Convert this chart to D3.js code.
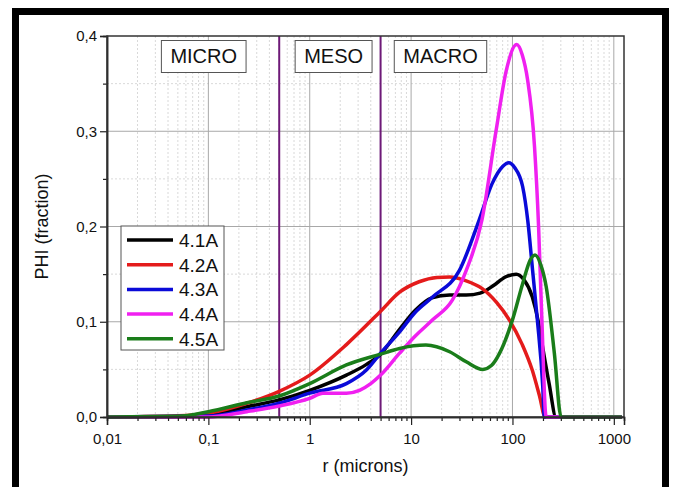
<!DOCTYPE html>
<html>
<head>
<meta charset="utf-8">
<script src="https://cdn.jsdelivr.net/npm/d3@7"></script>
<style>
  body { margin: 0; background: #fff; }
  text { font-family: "Liberation Sans", Arial, sans-serif; fill: #111; }
</style>
</head>
<body>
<div id="chart"></div>
<script>
// DATA: pore radius (microns) and PHI (fraction)
const seriesNames = ["4.1A", "4.2A", "4.3A", "4.4A", "4.5A"];
const seriesColors = ["#000000", "#e41b1b", "#0a0ad8", "#f020f0", "#1a7d1a"];

const r41   = [0.01, 0.05, 0.1, 0.24, 0.5, 1, 2.3, 3.6, 5, 7.7, 11, 16, 24, 35, 48, 65, 85, 109, 130, 157, 180, 198, 230, 269, 1200];
const phi41 = [0, 0.0003, 0.002, 0.0108, 0.018, 0.028, 0.044, 0.055, 0.066, 0.092, 0.112, 0.125, 0.128, 0.128, 0.130, 0.138, 0.147, 0.150, 0.144, 0.126, 0.100, 0.074, 0.035, 0, 0];

const r42   = [0.01, 0.02, 0.05, 0.1, 0.24, 0.5, 1, 2.3, 5, 7.7, 12, 18, 24, 35, 50, 70, 93, 125, 157, 185, 210, 1200];
const phi42 = [0, 0.0003, 0.0012, 0.004, 0.0144, 0.027, 0.044, 0.076, 0.111, 0.131, 0.142, 0.1465, 0.147, 0.143, 0.135, 0.120, 0.102, 0.076, 0.049, 0.022, 0, 0];

const r43   = [0.01, 0.1, 0.24, 0.5, 1, 2.3, 3.6, 5, 7.7, 11, 16.3, 30, 47, 63, 80, 92, 105, 126, 142, 158, 176, 199, 206, 1200];
const phi43 = [0, 0.001, 0.0073, 0.0144, 0.025, 0.035, 0.049, 0.067, 0.0895, 0.110, 0.126, 0.154, 0.207, 0.245, 0.263, 0.267, 0.262, 0.242, 0.205, 0.154, 0.102, 0.032, 0, 0];

const r44   = [0.01, 0.1, 0.24, 0.5, 1, 1.35, 2.3, 3.1, 4, 5, 7.7, 11, 16.3, 25.6, 35, 50, 69, 87, 110, 125, 141, 165, 181, 195, 215, 1200];
const phi44 = [0, 0, 0.0056, 0.0115, 0.0196, 0.025, 0.025, 0.028, 0.035, 0.044, 0.067, 0.085, 0.102, 0.123, 0.154, 0.207, 0.301, 0.364, 0.391, 0.380, 0.354, 0.284, 0.200, 0.102, 0, 0];

const r45   = [0.01, 0.05, 0.1, 0.24, 0.5, 1, 2.3, 5, 7.7, 14, 24, 35, 51, 62, 74.5, 100, 126, 150, 167, 190, 215, 259, 302, 1200];
const phi45 = [0, 0.0007, 0.0056, 0.015, 0.022, 0.035, 0.0546, 0.066, 0.072, 0.0755, 0.0685, 0.058, 0.050, 0.054, 0.0668, 0.102, 0.140, 0.165, 0.170, 0.160, 0.137, 0.067, 0, 0];

const seriesR   = [r41, r42, r43, r44, r45];
const seriesPhi = [phi41, phi42, phi43, phi44, phi45];

const xTickValues = [0.01, 0.1, 1, 10, 100, 1000];
const xTickLabels = ["0,01", "0,1", "1", "10", "100", "1000"];
const yTickValues = [0, 0.1, 0.2, 0.3, 0.4];
const yMinorValues = [0.05, 0.15, 0.25, 0.35];

const boundaries = [0.5, 5]; // micro/meso and meso/macro limits
const regionNames = ["MICRO", "MESO", "MACRO"];
const regionCenters = [0.09, 1.72, 19.5];

// 1: SVG
const W = 674, H = 487;
const margin = { top: 36, right: 50, bottom: 70, left: 107 },
      width = W - margin.left - margin.right,
      height = H - margin.top - margin.bottom;

const svg = d3.select("#chart").append("svg")
    .attr("width", W)
    .attr("height", H);

// outer thick frame (bottom edge falls outside the picture)
svg.append("path")
    .attr("d", "M15.5,500 V11.5 H665.5 V500")
    .attr("fill", "none")
    .attr("stroke", "#000")
    .attr("stroke-width", 7);

const g = svg.append("g")
    .attr("transform", `translate(${margin.left},${margin.top})`);

// 2: SCALES
const x = d3.scaleLog().domain([0.01, 1260]).range([0, width]);
const y = d3.scaleLinear().domain([0, 0.4]).range([height, 0]);

// minor decade values 2..9
const xMinor = [];
for (let d = 0.01; d <= 1000; d *= 10) {
    for (let k = 2; k <= 9; k++) {
        const v = +(d * k).toPrecision(3);
        if (v <= 1260) xMinor.push(v);
    }
}

// 3: GRID
g.append("g").selectAll("line")
    .data(xMinor).enter().append("line")
    .attr("x1", d => x(d)).attr("x2", d => x(d))
    .attr("y1", 0).attr("y2", height)
    .attr("stroke", "#cfcfcf").attr("stroke-dasharray", "2,2").attr("stroke-width", 0.8);

g.append("g").selectAll("line")
    .data(yMinorValues).enter().append("line")
    .attr("x1", 0).attr("x2", width)
    .attr("y1", d => y(d)).attr("y2", d => y(d))
    .attr("stroke", "#cfcfcf").attr("stroke-dasharray", "2,2").attr("stroke-width", 0.8);

g.append("g").selectAll("line")
    .data(xTickValues.slice(1)).enter().append("line")
    .attr("x1", d => x(d)).attr("x2", d => x(d))
    .attr("y1", 0).attr("y2", height)
    .attr("stroke", "#a8a8a8").attr("stroke-width", 1);

g.append("g").selectAll("line")
    .data(yTickValues.slice(1, 4)).enter().append("line")
    .attr("x1", 0).attr("x2", width)
    .attr("y1", d => y(d)).attr("y2", d => y(d))
    .attr("stroke", "#a8a8a8").attr("stroke-width", 1);

// 4: REGION BOUNDARIES
g.append("g").selectAll("line")
    .data(boundaries).enter().append("line")
    .attr("x1", d => x(d)).attr("x2", d => x(d))
    .attr("y1", 0).attr("y2", height)
    .attr("stroke", "#6e1a78").attr("stroke-width", 2);

// 5: CURVES
const line = d3.line()
    .x(d => x(d[0]))
    .y(d => y(d[1]))
    .curve(d3.curveMonotoneX);

seriesNames.forEach((name, i) => {
    const pts = seriesR[i].map((r, j) => [r, seriesPhi[i][j]]);
    g.append("path")
        .datum(pts)
        .attr("fill", "none")
        .attr("stroke", seriesColors[i])
        .attr("stroke-width", 3.5)
        .attr("stroke-linejoin", "round")
        .attr("d", line);
});

// 6: AXES
const xAxis = g.append("g")
    .attr("transform", `translate(0,${height})`)
    .call(d3.axisBottom(x).tickValues(xTickValues).tickSize(8)
        .tickFormat((d, i) => xTickLabels[i]));
g.append("g")
    .attr("transform", `translate(0,${height})`)
    .call(d3.axisBottom(x).tickValues(xMinor.filter(v => v < 1260)).tickSize(4).tickFormat(""));

const yAxis = g.append("g")
    .call(d3.axisLeft(y).tickValues(yTickValues).tickSize(7)
        .tickFormat(d => d3.format(".1f")(d).replace(".", ",")));
g.append("g")
    .call(d3.axisLeft(y).tickValues(yMinorValues).tickSize(4).tickFormat(""));

g.selectAll(".domain").attr("stroke", "#222").attr("stroke-width", 1.5);
g.selectAll(".tick line").attr("stroke", "#222").attr("stroke-width", 1.2);
g.selectAll(".tick text")
    .style("font-family", "'Liberation Sans', Arial, sans-serif")
    .style("font-size", "15px")
    .attr("fill", "#111");
xAxis.selectAll(".tick text").attr("dy", "1.05em");
yAxis.selectAll(".tick text").attr("x", -10);

// plot frame top/right
g.append("rect")
    .attr("width", width).attr("height", height)
    .attr("fill", "none").attr("stroke", "#333").attr("stroke-width", 1.5);

// 7: REGION LABELS
regionNames.forEach((name, i) => {
    const cx = x(regionCenters[i]);
    const lg = g.append("g");
    const box = lg.append("rect");
    const t = lg.append("text")
        .attr("x", cx).attr("y", 27)
        .attr("text-anchor", "middle")
        .style("font-size", "20px")
        .text(name);
    const bw = t.node().getComputedTextLength();
    box.attr("x", cx - bw / 2 - 9).attr("y", 4.5)
        .attr("width", bw + 18).attr("height", 32)
        .attr("fill", "#fff").attr("stroke", "#555").attr("stroke-width", 1);
});

// 8: LEGEND
const legend = g.append("g").attr("transform", "translate(14,190)");
legend.append("rect")
    .attr("width", 103).attr("height", 124)
    .attr("fill", "#fff").attr("stroke", "#555").attr("stroke-width", 1);
seriesNames.forEach((name, i) => {
    const ly = 14 + i * 24.7;
    legend.append("line")
        .attr("x1", 6).attr("x2", 52)
        .attr("y1", ly).attr("y2", ly)
        .attr("stroke", seriesColors[i]).attr("stroke-width", 3.5);
    legend.append("text")
        .attr("x", 58).attr("y", ly + 7)
        .style("font-size", "19px")
        .text(name);
});

// 9: AXIS LABELS
g.append("text")
    .attr("x", width / 2).attr("y", height + 55)
    .attr("text-anchor", "middle")
    .style("font-size", "18px")
    .text("r (microns)");

g.append("text")
    .attr("transform", "rotate(-90)")
    .attr("x", -height / 2).attr("y", -59)
    .attr("text-anchor", "middle")
    .style("font-size", "18px")
    .text("PHI (fraction)");
</script>
</body>
</html>
